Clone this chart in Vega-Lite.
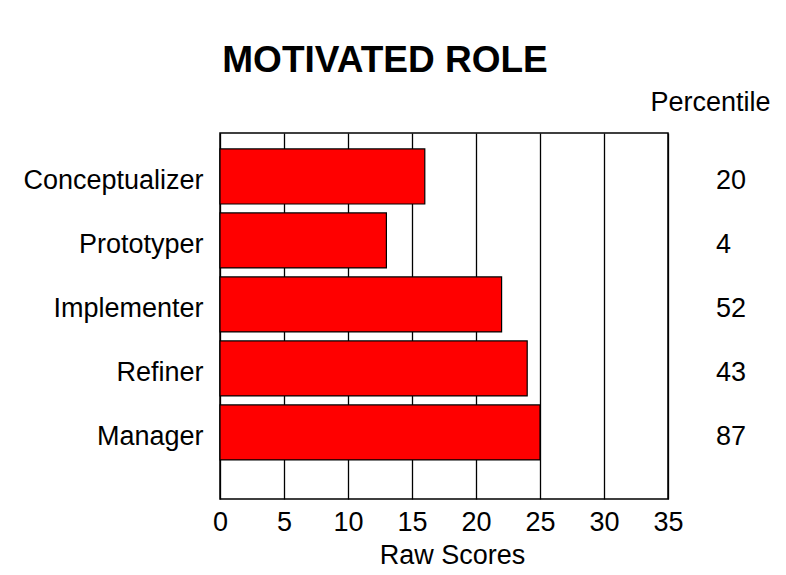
{
  "$schema": "https://vega.github.io/schema/vega-lite/v6.json",
  "autosize": "none",
  "width": 448,
  "height": 366,
  "padding": {"left": 220, "top": 133, "right": 118, "bottom": 76},
  "background": "white",
  "title": {
    "text": "MOTIVATED ROLE",
    "font": "Liberation Sans",
    "fontSize": 37,
    "fontWeight": "bold",
    "color": "black",
    "anchor": "middle",
    "dx": -59,
    "offset": 8
  },
  "config": {
    "font": "Liberation Sans",
    "view": {"stroke": "black", "strokeWidth": 1.5, "fill": "white"},
    "axis": {"labelColor": "black", "titleColor": "black", "labelFontSize": 27, "titleFontSize": 27, "titleFontWeight": "normal", "labelFont": "Liberation Sans", "titleFont": "Liberation Sans", "labelLimit": 400}
  },
  "data": {
    "values": [
      {"role": "Conceptualizer", "score": 16, "percentile": 20},
      {"role": "Prototyper", "score": 13, "percentile": 4},
      {"role": "Implementer", "score": 22, "percentile": 52},
      {"role": "Refiner", "score": 24, "percentile": 43},
      {"role": "Manager", "score": 25, "percentile": 87}
    ]
  },
  "layer": [
    {
      "mark": {"type": "bar", "fill": "#FF0000", "stroke": "black", "strokeWidth": 1.2},
      "encoding": {
        "y": {
          "field": "role", "type": "nominal", "sort": null,
          "scale": {"paddingInner": 0.14, "paddingOuter": 0.43, "align": 0.29},
          "axis": {"title": null, "ticks": false, "tickSize": 0, "domain": false, "grid": false, "labelPadding": 17, "labelOffset": 5, "labelLimit": 400}
        },
        "x": {
          "field": "score", "type": "quantitative",
          "scale": {"domain": [0, 35], "nice": false},
          "axis": {"values": [0, 5, 10, 15, 20, 25, 30, 35], "title": "Raw Scores", "titleX": 232, "grid": true, "gridColor": "black", "gridWidth": 1.3, "gridOpacity": 1, "ticks": false, "tickSize": 0, "domain": false, "labelPadding": 10, "titlePadding": 7, "labelFlush": false}
        }
      }
    },
    {
      "mark": {"type": "text", "align": "left", "baseline": "middle", "dy": 5, "fontSize": 27, "color": "black", "font": "Liberation Sans"},
      "encoding": {
        "y": {
          "field": "role", "type": "nominal", "sort": null,
          "axis": {"orient": "right", "labels": false, "ticks": false, "domain": false, "grid": false, "title": "Percentile", "titleAngle": 0, "titleAlign": "right", "titleBaseline": "alphabetic", "titleX": 102, "titleY": -23}
        },
        "x": {"datum": 38.75, "type": "quantitative"},
        "text": {"field": "percentile", "type": "quantitative"}
      }
    }
  ],
  "resolve": {"axis": {"y": "independent"}}
}
